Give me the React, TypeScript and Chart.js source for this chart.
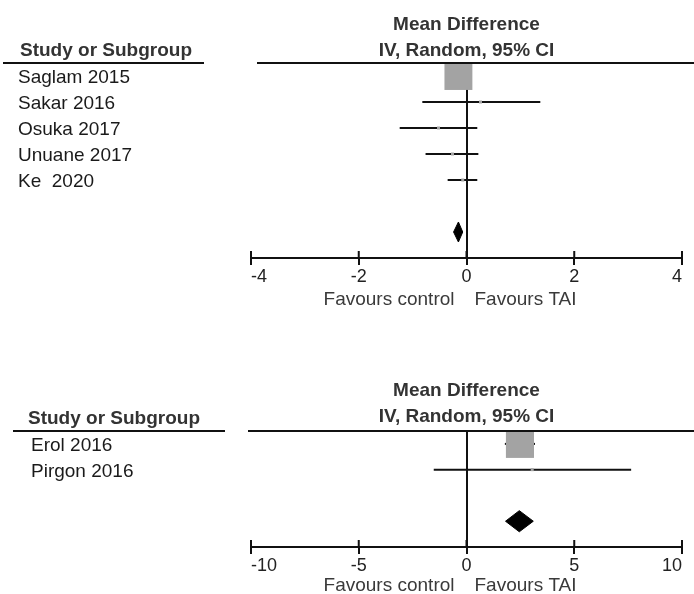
import React, { useEffect, useRef } from 'react';
import { Chart, registerables } from 'chart.js';

Chart.register(...registerables);

const FONT = '"Liberation Sans", Arial, Helvetica, sans-serif';

// ---------- Panel 1 data ----------
const studiesTop = ['Saglam 2015', 'Sakar 2016', 'Osuka 2017', 'Unuane 2017', 'Ke  2020'];
const meanTop = [-0.15, 0.26, -0.52, -0.26, -0.07];
const lowTop = [-0.25, -0.82, -1.24, -0.76, -0.35];
const highTop = [-0.05, 1.37, 0.2, 0.22, 0.2];
const weightTop = [96, 1, 1, 1, 1];
const pooledMeanTop = -0.15;
const pooledLowTop = -0.24;
const pooledHighTop = -0.07;
const ticksTop = [-4, -2, 0, 2, 4];

// ---------- Panel 2 data ----------
const studiesBottom = ['Erol 2016', 'Pirgon 2016'];
const meanBottom = [2.48, 3.05];
const lowBottom = [1.78, -1.52];
const highBottom = [3.18, 7.64];
const weightBottom = [97, 1];
const pooledMeanBottom = 2.45;
const pooledLowBottom = 1.81;
const pooledHighBottom = 3.1;
const ticksBottom = [-10, -5, 0, 5, 10];

const headerTitle = 'Mean Difference';
const headerSub = 'IV, Random, 95% CI';
const studyHeader = 'Study or Subgroup';
const favoursLeft = 'Favours control';
const favoursRight = 'Favours TAI';

type Panel = {
  height: number;
  studies: string[];
  mean: number[];
  low: number[];
  high: number[];
  weight: number[];
  pooled: [number, number, number];
  ticks: number[];
  pooledRow: number;
  yMax: number;
  padTop: number;
  axisY: number;
  headLineLeft: number;
  underLeft: number;
  underRight: number;
  headerX: number;
  nameX: number;
  subOffset: number;
  favOffset: number;
  diamondHalf: number;
};

const topPanel: Panel = {
  height: 320,
  studies: studiesTop,
  mean: meanTop,
  low: lowTop,
  high: highTop,
  weight: weightTop,
  pooled: [pooledMeanTop, pooledLowTop, pooledHighTop],
  ticks: ticksTop,
  pooledRow: 6,
  yMax: 7,
  padTop: 63,
  axisY: 258,
  headLineLeft: 257,
  underLeft: 3,
  underRight: 204,
  headerX: 20,
  nameX: 18,
  subOffset: 12,
  favOffset: 42,
  diamondHalf: 0.385,
};

const bottomPanel: Panel = {
  height: 274,
  studies: studiesBottom,
  mean: meanBottom,
  low: lowBottom,
  high: highBottom,
  weight: weightBottom,
  pooled: [pooledMeanBottom, pooledLowBottom, pooledHighBottom],
  ticks: ticksBottom,
  pooledRow: 3,
  yMax: 4,
  padTop: 111,
  axisY: 227,
  headLineLeft: 248,
  underLeft: 13,
  underRight: 225,
  headerX: 28,
  nameX: 31,
  subOffset: 14,
  favOffset: 39,
  diamondHalf: 0.41,
};

function squareSide(w: number) {
  return Math.max(3, 28.5 * Math.sqrt(w / 100));
}

function makePlugin(p: Panel) {
  return {
    id: 'forestDecor',
    afterDraw(chart: any) {
      const { ctx, chartArea, scales } = chart;
      const x = scales.x;
      const y = scales.y;
      ctx.save();
      ctx.strokeStyle = '#111';
      ctx.lineWidth = 2;
      ctx.beginPath();
      ctx.moveTo(p.headLineLeft, chartArea.top);
      ctx.lineTo(chart.width, chartArea.top);
      ctx.moveTo(p.underLeft, chartArea.top);
      ctx.lineTo(p.underRight, chartArea.top);
      x.ticks.forEach((t: any) => {
        const px = x.getPixelForValue(t.value);
        ctx.moveTo(px, chartArea.bottom - 7);
        ctx.lineTo(px, chartArea.bottom);
      });
      ctx.stroke();

      // headers
      const mid = x.getPixelForValue((x.min + x.max) / 2);
      ctx.fillStyle = '#333';
      ctx.font = `bold 19px ${FONT}`;
      ctx.textBaseline = 'middle';
      ctx.textAlign = 'center';
      ctx.fillText(headerTitle, mid, chartArea.top - p.subOffset - 26);
      ctx.fillText(headerSub, mid, chartArea.top - p.subOffset);
      ctx.textAlign = 'left';
      ctx.fillText(studyHeader, p.headerX, chartArea.top - 12);

      // study names
      ctx.fillStyle = '#1a1a1a';
      ctx.font = `19px ${FONT}`;
      p.studies.forEach((s, i) => {
        ctx.fillText(s, p.nameX, y.getPixelForValue(i) + 2);
      });

      // favours
      const zero = x.getPixelForValue(0);
      ctx.fillStyle = '#3a3a3a';
      ctx.textAlign = 'right';
      ctx.fillText(favoursLeft, zero - 12, chartArea.bottom + p.favOffset);
      ctx.textAlign = 'left';
      ctx.fillText(favoursRight, zero + 8, chartArea.bottom + p.favOffset);
      ctx.restore();
    },
  };
}

function buildConfig(p: Panel): any {
  const [pm, pl, ph] = p.pooled;
  const r = p.pooledRow;
  const h = p.diamondHalf;
  const ciSets = p.studies.map((s, i) => ({
    type: 'line',
    label: s + ' CI',
    data: [
      { x: p.low[i], y: i },
      { x: p.high[i], y: i },
    ],
    borderColor: '#111',
    borderWidth: 2,
    pointRadius: 0,
    fill: false,
    order: 1,
  }));
  return {
    type: 'scatter',
    data: {
      datasets: [
        {
          type: 'scatter',
          label: 'Estimates',
          data: p.studies.map((s, i) => ({ x: p.mean[i], y: i })),
          pointStyle: 'rect',
          pointRadius: p.weight.map((w) => squareSide(w) / Math.SQRT2),
          backgroundColor: '#a3a3a3',
          borderWidth: 0,
          order: 0,
        },
        ...ciSets,
        {
          type: 'line',
          label: 'Pooled',
          data: [
            { x: pl, y: r },
            { x: pm, y: r - h },
            { x: ph, y: r },
            { x: pm, y: r + h },
            { x: pl, y: r },
          ],
          borderColor: '#000',
          backgroundColor: '#000',
          borderWidth: 1,
          pointRadius: 0,
          tension: 0,
          fill: 'shape',
          order: 2,
        },
      ],
    },
    options: {
      responsive: false,
      animation: false,
      devicePixelRatio: 1,
      layout: { autoPadding: false, padding: { left: 251, right: 12, top: p.padTop, bottom: 0 } },
      plugins: {
        legend: { display: false },
        tooltip: { enabled: false },
      },
      scales: {
        x: {
          type: 'linear',
          min: p.ticks[0],
          max: p.ticks[p.ticks.length - 1],
          afterBuildTicks: (scale: any) => {
            scale.ticks = p.ticks.map((v) => ({ value: v }));
          },
          afterFit: (scale: any) => {
            scale.height = p.height - p.axisY;
            scale.paddingLeft = 0;
            scale.paddingRight = 0;
          },
          ticks: {
            font: { family: FONT, size: 18 },
            color: '#222',
            padding: 1,
            align: 'inner',
            maxRotation: 0,
            autoSkip: false,
            callback: (v: any) => String(v),
          },
          grid: {
            drawOnChartArea: true,
            drawTicks: true,
            tickLength: 7,
            tickColor: '#111',
            lineWidth: 2,
            color: (c: any) => (c.tick && c.tick.value === 0 ? '#111' : 'rgba(0,0,0,0)'),
          },
          border: { display: true, color: '#111', width: 2 },
        },
        y: {
          type: 'linear',
          display: false,
          reverse: true,
          min: -0.5,
          max: p.yMax,
        },
      },
    },
    plugins: [makePlugin(p)],
  };
}

function ForestPanel({ panel }: { panel: Panel }) {
  const ref = useRef<HTMLCanvasElement>(null);
  useEffect(() => {
    if (!ref.current) return;
    const chart = new Chart(ref.current, buildConfig(panel));
    return () => chart.destroy();
  }, [panel]);
  return (
    <canvas
      ref={ref}
      width={694}
      height={panel.height}
      style={{ display: 'block', width: 694, height: panel.height }}
    />
  );
}

export default function App() {
  return (
    <div style={{ position: 'absolute', left: 0, top: 0, width: 694, height: 594, background: '#fff' }}>
      <ForestPanel panel={topPanel} />
      <ForestPanel panel={bottomPanel} />
    </div>
  );
}
